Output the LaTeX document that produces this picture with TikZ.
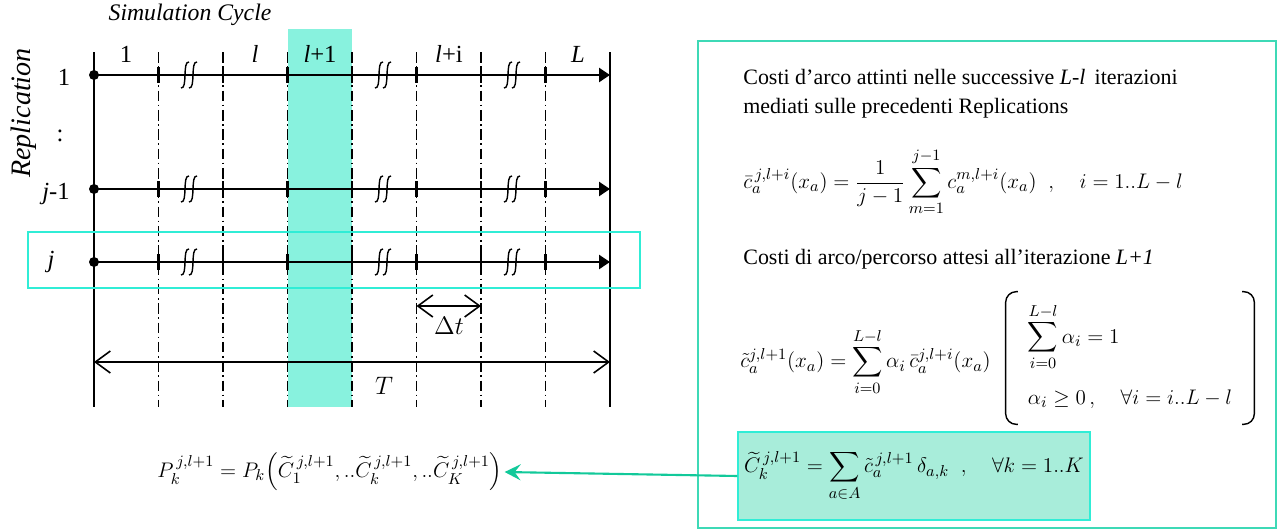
\documentclass[tikz,border=0pt]{standalone}
\usepackage{amsmath}
\usepackage{fontspec}
\setmainfont{Liberation Serif}
\usetikzlibrary{arrows.meta, positioning}
\definecolor{cyclecyan}{HTML}{88F2DE}
\definecolor{framecyan}{HTML}{30EDD6}
\definecolor{panelgreen}{HTML}{3ED9B6}
\definecolor{boxfill}{HTML}{A8EDDA}
\definecolor{arrowgreen}{HTML}{12C99A}
\tikzset{
	gridline/.style={line width=0.6pt, dash pattern=on 6pt off 2pt on 1pt off 2pt},
	bordline/.style={line width=0.6pt},
	rowthick/.style={line width=1.4pt},
	rowthin/.style={line width=0.7pt},
	tickmark/.style={line width=1.4pt},
	dimarrow/.style={{Straight Barb[length=3mm, width=4.4mm]}-{Straight Barb[length=3mm, width=4.4mm]}, line width=0.9pt},
	celllabel/.style={font=\fontsize{14}{16}\selectfont},
	rowlabel/.style={font=\fontsize{14}{16}\selectfont},
	paneltext/.style={anchor=west, inner sep=0pt, font=\fontsize{12.5}{15}\selectfont},
	formula/.style={anchor=west, inner sep=0pt, font=\fontsize{12.5}{15}\selectfont},
	sumbox/.style={draw=framecyan, fill=boxfill, line width=1pt, minimum width=6.96cm,
		minimum height=1.76cm, font=\fontsize{12.5}{15}\selectfont},
	linkarrow/.style={-{Stealth[length=3.2mm, width=3.2mm, inset=1.2mm]}, line width=1.2pt, draw=arrowgreen}
}

\begin{document}
\begin{tikzpicture}[x=0.02cm, y=-0.02cm]
	\useasboundingbox (0,0) rectangle (1281,531);
	% highlighted cycle l+1
	\fill[cyclecyan] (287.5,29) rectangle (352,407);
	% cycle grid
	\draw[bordline] (94,52) -- (94,407);
	\draw[bordline] (610,52) -- (610,407);
	\foreach \i in {1,...,7}
		\draw[gridline] (94+64.5*\i,52) -- (94+64.5*\i,407);
	\node[font=\fontsize{13.5}{16}\selectfont\itshape] (simcycle) at (190,15) {Simulation Cycle};
	\node[celllabel] (c1) at (126,54) {1};
	\node[celllabel] (cl) at (255,54) {\textit{l}};
	\node[celllabel] (cl1) at (320,54) {\textit{l}+1};
	\node[celllabel] (cli) at (449,54) {\textit{l}+i};
	\node[celllabel] (cL) at (578,54) {\textit{L}};
	% replications
	\node[rotate=90, font=\fontsize{16}{18}\selectfont\itshape] (rep) at (24,113) {Replication};
	\node[rowlabel] (r1) at (64,77) {1};
	\node[rowlabel] (rdots) at (60,136) {:};
	\node[rowlabel] (rjm) at (56,194) {\textit{j}-1};
	\node[rowlabel] (rj) at (51,262) {\textit{j}};
	\foreach \y in {75,189,262} {
		\fill (94,\y) circle (5);
		\draw[rowthick] (94,\y) -- (190,\y);
		\draw[rowthin] (190,\y) -- (513,\y);
		\draw[rowthick, -{Triangle[length=2.2mm, width=2.8mm]}] (513,\y) -- (610,\y);
		\foreach \i in {1,...,7}
			\draw[tickmark] (94+64.5*\i,\y-8) -- (94+64.5*\i,\y+8);
		\foreach \x in {190,384,513} {
			\draw[line width=0.8pt] (\x-9,\y+13) .. controls (\x-2,\y+14) and (\x-8,\y-14) .. (\x-1,\y-13);
			\draw[line width=0.8pt] (\x-1,\y+13) .. controls (\x+6,\y+14) and (\x,\y-14) .. (\x+7,\y-13);
		}
	}
	\draw[framecyan, line width=1.2pt] (28,232) rectangle (640,288);
	% time spans
	\draw[dimarrow] (416.5,306) -- (481,306);
	\node[celllabel] (dt) at (449,326) {$\Delta t$};
	\draw[dimarrow] (94,362) -- (610,362);
	\node[celllabel] (tt) at (384,386) {$T$};
	% cost panel
	\draw[panelgreen, line width=0.8pt] (698,41) rectangle (1276,528);
	\node[paneltext] (txa) at (743,77) {Costi d’arco attinti nelle successive \textit{L-l}\, iterazioni};
	\node[paneltext] (txb) at (743,108) {mediati sulle precedenti Replications};
	\node[formula] (fbar) at (743,182) {$\displaystyle \bar{c}_a^{\,j,l+i}(x_a)=\frac{1}{j-1}\sum_{m=1}^{j-1}c_a^{m,l+i}(x_a)\;\;,\quad i=1..L-l$};
	\node[paneltext] (txc) at (743,259) {Costi di arco/percorso attesi all’iterazione \textit{L+1}};
	\node[formula] (ftil) at (740,362) {$\displaystyle \tilde{c}_a^{j,l+1}(x_a)=\sum_{i=0}^{L-l}\alpha_i\,\bar{c}_a^{j,l+i}(x_a)$};
	\node[font=\fontsize{12.5}{15}\selectfont, minimum width=4.96cm, minimum height=2.64cm] (cons) at (1130,358)
		{$\begin{array}{l}\displaystyle\sum_{i=0}^{L-l}\alpha_i=1\\[20pt] \alpha_i\geq 0\,,\quad \forall i=i..L-l\end{array}$};
	\draw[line width=0.8pt, rounded corners=6pt] ([xshift=7pt]cons.north west) -- (cons.north west) -- (cons.south west) -- ([xshift=7pt]cons.south west);
	\draw[line width=0.8pt, rounded corners=6pt] ([xshift=-7pt]cons.north east) -- (cons.north east) -- (cons.south east) -- ([xshift=-7pt]cons.south east);
	\node[sumbox] (ctil) at (914,476) {$\displaystyle \widetilde{C}_k^{\,j,l+1}=\sum_{a\in A}\tilde{c}_a^{\,j,l+1}\,\delta_{a,k}\;\;,\quad \forall k=1..K$};
	\node[font=\fontsize{12.5}{15}\selectfont, inner sep=1pt] (pk) at (330,472) {$P_k^{\,j,l+1}=P_k\Big(\widetilde{C}_1^{\,j,l+1},..\widetilde{C}_k^{\,j,l+1},..\widetilde{C}_K^{\,j,l+1}\Big)$};
	\draw[linkarrow] (ctil.west) -- (pk.east);
\end{tikzpicture}
\end{document}
